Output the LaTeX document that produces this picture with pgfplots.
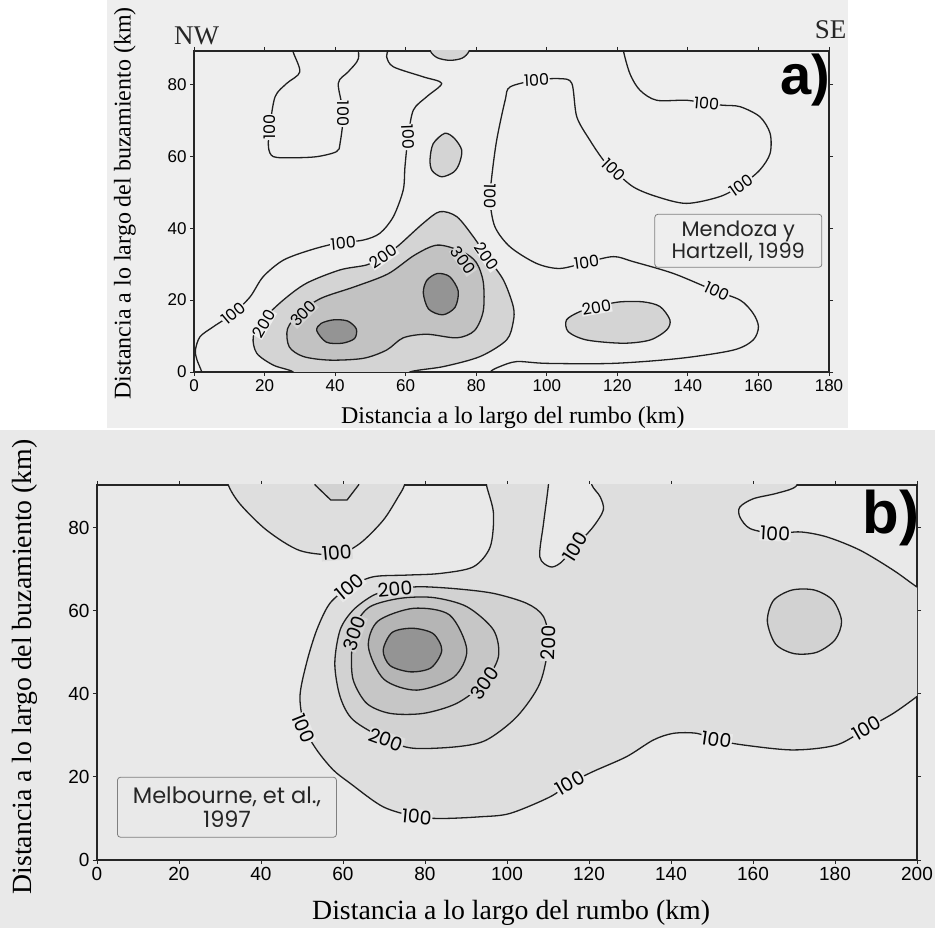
\documentclass[border=0pt]{standalone}
\usepackage{pgfplots}
\pgfplotsset{compat=1.18}
\usepackage{fontspec}
\setmainfont{Liberation Serif}
\newfontfamily\arialf{Liberation Sans}
\newfontfamily\gothic{Poppins}
\definecolor{pageA}{gray}{0.935}
\definecolor{pageB}{gray}{0.915}
\definecolor{aL2}{gray}{0.83}
\definecolor{aL3}{gray}{0.76}
\definecolor{aL4}{gray}{0.58}
\definecolor{bL1}{gray}{0.87}
\definecolor{bL2}{gray}{0.825}
\definecolor{bL3}{gray}{0.775}
\definecolor{bL4}{gray}{0.71}
\definecolor{bL5}{gray}{0.58}
\colorlet{cline}{black!88}
\tikzset{
  laba/.style={font=\gothic\fontsize{16}{16}\selectfont, inner sep=0.6pt, text=black},
  labb/.style={font=\gothic\fontsize{19}{19}\selectfont, inner sep=0.6pt, text=black},
}
\begin{document}
\begin{tikzpicture}
\useasboundingbox (0pt,0pt) rectangle (935pt,928pt);
\fill[pageA] (107pt,500pt) rectangle (848pt,928pt);
\fill[pageB] (0pt,0pt) rectangle (935pt,498pt);
\pgfplotsset{
  cont/.style={cline, line width=1.3pt, mark=none},
  every axis/.append style={
    scale only axis, tick align=outside, major tick length=4pt,
    axis line style={line width=1.1pt, black!85},
    every tick/.style={black!85, line width=0.9pt},
    /pgf/number format/assume math mode=true,
  },
}
% ---------------- panel a ----------------
\begin{axis}[at={(194pt,556pt)}, anchor=south west, width=635pt, height=321pt,
  xmin=0, xmax=180, ymin=0, ymax=89.3,
  xtick={0,20,...,180}, ytick={0,20,...,80},
  axis background/.style={fill=pageA},
  ticklabel style={font=\arialf\fontsize{17}{17}\selectfont, text=black},
  xlabel={Distancia a lo largo del rumbo (km)},
  ylabel={Distancia a lo largo del buzamiento (km)},
  xlabel style={at={(axis description cs:0.502,-0.143)}, anchor=center, font=\fontsize{24}{24}\selectfont},
  ylabel style={at={(axis description cs:-0.1087,0.525)}, anchor=center, font=\fontsize{24}{24}\selectfont},
]
% 200 fills
\addplot[cont, fill=aL2, smooth] coordinates {(28.5,-3) (28.1,0) (22.5,1.9) (17.8,5.2) (16.8,9.8) (19.5,14.5) (25.3,20) (31.9,24.7) (41.4,28.4) (49,29.8) (53.7,32.1) (58,35.2) (65,41.4) (69.7,44.6) (74.5,43.2) (79.2,37.6) (83,32.1) (87.7,25.6) (90.5,18.2) (90.5,14) (88.6,8.9) (81.1,4.3) (70.7,1.5) (61.2,0) (58,-3)};
\addplot[cont, fill=aL2, smooth] coordinates {(66.5,93) (67,89.3) (69,87.4) (72.5,86.7) (76,87.3) (78,89.3) (78.5,93)};
\addplot[cont, fill=aL2, smooth cycle] coordinates {(71.1,66.4) (73.8,65) (75.9,61.7) (75.2,58) (73.6,55.6) (70.2,54.3) (67.5,56) (66.9,59) (67.8,63.5)};
\addplot[cont, fill=aL2, smooth cycle] coordinates {(109.4,16.8) (105.6,14.5) (106.1,11.2) (111.3,8.9) (121.7,8.0) (129.3,8.9) (134,11.7) (134.9,14.5) (132.1,18.2) (127.4,19.5) (120.7,19.5) (114.5,18.3)};
% 300
\addplot[cont, fill=aL3, smooth cycle] coordinates {(26.5,12) (27,7) (31,4.3) (38.5,3.3) (48,3.8) (54.6,6.1) (59.3,9.5) (66,10.5) (74.5,9.5) (79.5,11.5) (82,17) (82,25) (80,30.5) (76,33.5) (69,35.3) (62.5,32.5) (55,27.3) (45.5,23.7) (36,20.5) (30,16.5)};
% 400
\addplot[cont, fill=aL4, smooth cycle] coordinates {(34.8,11.5) (36,13.5) (39.5,14.5) (43.5,14.2) (46,12) (45.5,9.3) (42,8) (37.5,8.3)};
\addplot[cont, fill=aL4, smooth cycle] coordinates {(65,22) (66,25.5) (69,27.4) (72.5,26.5) (74.9,22.5) (74,18) (70.5,15.9) (66.5,17.5)};
% 100 lines
\addplot[cont, smooth] coordinates {(28,93) (28,89.4) (30,83.5) (26.3,80.3) (23,76.6) (21.5,68.2) (21.1,62.6) (22.5,59.9) (28,59.6) (34.8,59.9) (40.4,61.3) (41.4,63.6) (42.3,71.9) (40.9,80.3) (43.7,83.5) (46.6,87.2) (46.1,93)};
\addplot[cont, smooth] coordinates {(55,93) (55,89.5) (54.6,87.7) (56.5,84.9) (65,82.1) (70.2,80.3) (66,76.6) (62.2,72.9) (60.7,65.4) (59.8,57.1) (59.3,50.6) (56.5,43.2) (52.7,38.6) (48,36.7) (40.4,35.8) (32.9,33.9) (25.3,31.1) (19.6,26.5) (15.9,20.9) (11.1,16.3) (5.5,12.6) (1.7,9.8) (0.4,6.1) (0.8,3.5) (2.2,0) (2.8,-3)};
\addplot[cont, smooth] coordinates {(121.7,93) (121.7,89.5) (123.6,82.9) (126.4,78.4) (131.1,75.6) (139.6,75.6) (145.3,74.7) (150,74.2) (154.8,73.8) (160.4,71) (163.3,66.4) (163.3,60.8) (160.4,56.2) (155.2,52) (149.1,48.8) (139.6,46.9) (131.1,48.8) (124.5,51.5) (118.9,56.2) (116,59) (112.2,64.5) (108.5,71) (107.1,80.3) (103.7,81.6) (97.1,81.2) (89.6,79.3) (88.2,75.6) (85.8,64.5) (84.4,54.3) (83.9,47.8) (85.3,40.4) (89.6,34.8) (97.1,30.2) (103.7,28.8) (111.3,30.5) (118.9,32.1) (124.5,30.7) (135.9,27.4) (147.2,22.8) (154.8,20) (158.5,16.3) (160,12.6) (158.5,8.9) (152.9,6.1) (137.8,3.8) (118.9,2.4) (100,2.4) (91.5,2.9) (86.7,1.5) (84,0) (83.5,-3)};
% labels
\node[laba, fill=pageA, rotate=90] at (axis cs:21.5,68.2) {100};
\node[laba, fill=pageA, rotate=-90] at (axis cs:42.3,71.9) {100};
\node[laba, fill=pageA, rotate=-88] at (axis cs:60.7,65.4) {100};
\node[laba, fill=pageA, rotate=5] at (axis cs:42.3,35.8) {100};
\node[laba, fill=pageA, rotate=40] at (axis cs:11.2,16.3) {100};
\node[laba, fill=pageA, rotate=3] at (axis cs:97.1,81.2) {100};
\node[laba, fill=pageA, rotate=-92] at (axis cs:83.9,48.8) {100};
\node[laba, fill=pageA, rotate=8] at (axis cs:111.3,30.5) {100};
\node[laba, fill=pageA, rotate=-25] at (axis cs:148.2,22.5) {100};
\node[laba, fill=pageA, rotate=35] at (axis cs:155.2,52) {100};
\node[laba, fill=pageA, rotate=-45] at (axis cs:118.9,56.2) {100};
\node[laba, fill=pageA, rotate=-5] at (axis cs:145.3,74.7) {100};
\node[laba, fill=pageA, rotate=60] at (axis cs:19.8,13.5) {200};
\node[laba, fill=pageA, rotate=35] at (axis cs:53.7,32.1) {200};
\node[laba, fill=pageA, rotate=-55] at (axis cs:83,32.1) {200};
\node[laba, fill=pageA, rotate=10] at (axis cs:114.1,17.9) {200};
\node[laba, fill=aL2, rotate=45] at (axis cs:31,16.3) {300};
\node[laba, fill=aL2, rotate=-55] at (axis cs:76.3,31) {300};
\node[draw=black!50, line width=0.8pt, rounded corners=3pt, fill=pageA, minimum width=167pt, minimum height=53pt, align=center, inner sep=2pt, font=\gothic\fontsize{21}{22}\selectfont, text=black!85] at (axis cs:154.3,36.5) {Mendoza y\\Hartzell, 1999};
\end{axis}
\node[font=\fontsize{27}{27}\selectfont, text=black!85] at (196.5pt,892pt) {NW};
\node[font=\fontsize{27}{27}\selectfont, text=black!85] at (830.5pt,898pt) {SE};
\node[font=\arialf\bfseries\fontsize{56}{56}\selectfont] at (805pt,848pt) {a)};
% ---------------- panel b ----------------
\begin{axis}[at={(97pt,68pt)}, anchor=south west, width=820pt, height=375pt,
  xmin=0, xmax=200, ymin=0, ymax=90.3,
  xtick={0,20,...,200}, ytick={0,20,...,80},
  axis background/.style={fill=pageB},
  ticklabel style={font=\arialf\fontsize{19}{19}\selectfont, text=black},
  xlabel={Distancia a lo largo del rumbo (km)},
  ylabel={Distancia a lo largo del buzamiento (km)},
  xlabel style={at={(axis description cs:0.505,-0.141)}, anchor=center, font=\fontsize{27.8}{27.8}\selectfont},
  ylabel style={at={(axis description cs:-0.0878,0.515)}, anchor=center, font=\fontsize{27.8}{27.8}\selectfont},
]
% 100 region
\addplot[cont, fill=bL1, smooth] coordinates {(95,94) (95,90.3) (96.7,83.5) (95.9,75.4) (91.8,70.6) (83.7,69) (75.5,68.6) (67.4,68.2) (61.7,65.8) (56.8,61.8) (53.6,55.4) (51.1,47.4) (49.5,39.3) (50.7,31.7) (53.6,26.5) (57.6,21.7) (61.7,18.5) (69.8,12.8) (78,10.4) (84.5,10) (93.4,10.4) (100.7,11.2) (110.5,15.2) (115.4,18.5) (121,21.3) (129.2,24.9) (135.7,28.9) (140.6,30.5) (146.3,30.5) (151.1,28.9) (157.6,27.7) (169.8,26.5) (180.4,27.7) (187.7,31.7) (194.2,35.3) (199.9,39.3) (206,44) (206,62) (199.9,65.8) (194.2,69.8) (186.1,74.6) (178,77.8) (171.5,79) (165.4,78.6) (159.3,79.8) (156.8,82.6) (156.8,85) (160.1,87) (165.8,88.3) (170.5,90) (171.5,94)};
\addplot[cont, fill=pageB, smooth] coordinates {(110.1,94) (110.1,90.3) (108.9,81) (108,73) (110.5,70.6) (113,71.5) (116.6,75.4) (121,80.2) (123.5,84.3) (122.7,87.5) (120.7,90.3) (120.5,94)};
\addplot[cont, fill=bL1, smooth] coordinates {(31.5,94) (32,90.3) (34.9,85.7) (41.4,79.4) (49.5,74.5) (58.5,73.6) (64.1,76.2) (69.8,81.8) (73.5,87.5) (75,90.3) (75.5,94)};
% 200
\addplot[cont, fill=bL2, sharp plot] coordinates {(52.5,94) (53.2,90.3) (57,86.7) (61,86.7) (63.8,90.3) (64.5,94)};
\addplot[cont, fill=bL2, smooth cycle] coordinates {(163.5,57.5) (165,62.5) (169.5,65) (175,65) (179.5,62.5) (181.6,57.5) (180,53) (175.5,50) (170,49.7) (165.5,52)};
\addplot[cont, fill=bL2, smooth cycle] coordinates {(72.7,65.2) (78.8,65.8) (87.7,65.3) (96.7,64.2) (104.8,61.8) (108.9,58.6) (110.1,52.2) (108,42.5) (102.4,34.5) (95,28.9) (88,27.3) (77.2,26.9) (70.7,28.9) (62.5,33.7) (59.3,39.3) (58,47.3) (59.3,55.4) (62.5,60.2) (67.5,63.8)};
% 300
\addplot[cont, fill=bL3, smooth cycle] coordinates {(62.1,49.8) (63,56.5) (66.6,61) (73.9,63) (82,63.2) (90.2,61) (96.7,55.4) (97.9,48.9) (94.2,42.5) (87.7,37.7) (79.6,35.3) (71.5,35.3) (65.8,37.7) (62.5,43.3)};
% 400
\addplot[cont, fill=bL4, smooth cycle] coordinates {(66.2,51.3) (68.5,57.5) (77.2,60.6) (86,59) (90.2,50.6) (87,44) (78,40.9) (70,43.5)};
% 500
\addplot[cont, fill=bL5, smooth cycle] coordinates {(69.8,50.5) (72,54.8) (77,55.8) (82,54.5) (84.1,50.5) (81.5,46.3) (76.5,45.3) (71.5,46.8)};
% labels
\node[labb, fill=bL1, rotate=5] at (axis cs:58.5,74) {100};
\node[labb, fill=pageB, rotate=40] at (axis cs:61.7,65.8) {100};
\node[labb, fill=pageB, rotate=-68] at (axis cs:50.4,31.7) {100};
\node[labb, fill=pageB, rotate=-5] at (axis cs:78,10.4) {100};
\node[labb, fill=pageB, rotate=30] at (axis cs:115.4,18.5) {100};
\node[labb, fill=pageB, rotate=-8] at (axis cs:151.1,29) {100};
\node[labb, fill=pageB, rotate=30] at (axis cs:187.7,31.7) {100};
\node[labb, fill=pageB, rotate=-3] at (axis cs:165.4,78.6) {100};
\node[labb, fill=bL1, rotate=58] at (axis cs:116.6,75.4) {100};
\node[labb, fill=bL1, rotate=5] at (axis cs:72.7,65.3) {200};
\node[labb, fill=bL1, rotate=-20] at (axis cs:70.5,29) {200};
\node[labb, fill=bL1, rotate=88] at (axis cs:110.1,52.2) {200};
\node[labb, fill=bL2, rotate=70] at (axis cs:62.8,54.6) {300};
\node[labb, fill=bL2, rotate=55] at (axis cs:94.6,42.5) {300};
\node[draw=black!50, line width=0.8pt, rounded corners=3pt, fill=pageB, minimum width=219pt, minimum height=60pt, align=center, inner sep=2pt, font=\gothic\fontsize{22.5}{24}\selectfont, text=black!85] at (axis cs:31.7,12.7) {Melbourne, et al.,\\1997};
\end{axis}
\node[font=\arialf\bfseries\fontsize{60}{60}\selectfont] at (891pt,410pt) {b)};
\end{tikzpicture}
\end{document}
